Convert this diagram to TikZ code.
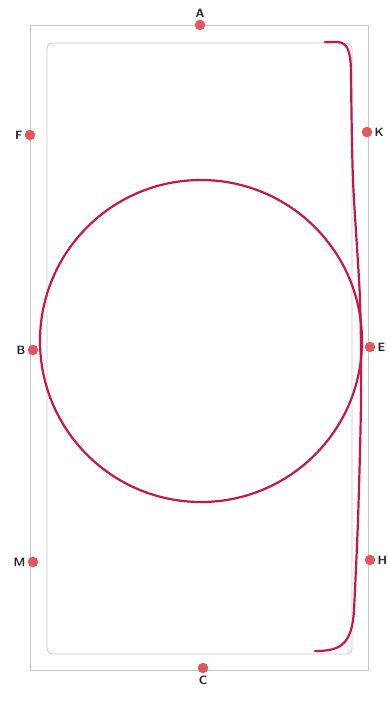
\documentclass[tikz,border=0pt]{standalone}
\usepackage{tikz}
\definecolor{inkred}{RGB}{200,22,72}
\definecolor{dotred}{RGB}{228,88,92}
\tikzset{
    pt/.style={circle, fill=dotred, inner sep=0pt, minimum size=10.5pt},
    lbl/.style={font=\sffamily\bfseries\fontsize{12}{14}\selectfont, text=black!85, inner sep=2pt},
    pencil/.style={gray!45, line width=0.8pt},
    inkline/.style={draw=inkred, line width=2.2pt, line cap=round, line join=round}
}

\begin{document}
\begin{tikzpicture}[x=1pt, y=-1pt]
    \useasboundingbox (0,0) rectangle (388,702);

    % Outer frame
    \draw[pencil] (30,25) rectangle (368,670);

    % Inner rounded frame
    \draw[pencil, rounded corners=6pt] (47,43) rectangle (352,654);

    % Points on the outer frame
    \node[pt, label={[lbl]above:A}] (A) at (200,25) {};
    \node[pt, label={[lbl]left:F}]  (F) at (30,135) {};
    \node[pt, label={[lbl]right:K}] (K) at (367,132) {};
    \node[pt, label={[lbl]left:B}]  (B) at (33,350) {};
    \node[pt, label={[lbl]right:E}] (E) at (370,347) {};
    \node[pt, label={[lbl]left:M}]  (M) at (33,562) {};
    \node[pt, label={[lbl]right:H}] (H) at (370,560) {};
    \node[pt, label={[lbl]below:C}] (C) at (203,668) {};

    % Big circle
    \draw[inkline] (201,341) circle (161);

    % Right-hand track
    \draw[inkline] (325,42) -- (338,42) .. controls (348,43) and (351,52) .. (351,75)
        plot[smooth] coordinates {(351,75) (353,180) (360,300) (361,400) (358,520) (354,610)}
        .. controls (352,645) and (340,651) .. (315,651);
\end{tikzpicture}
\end{document}
